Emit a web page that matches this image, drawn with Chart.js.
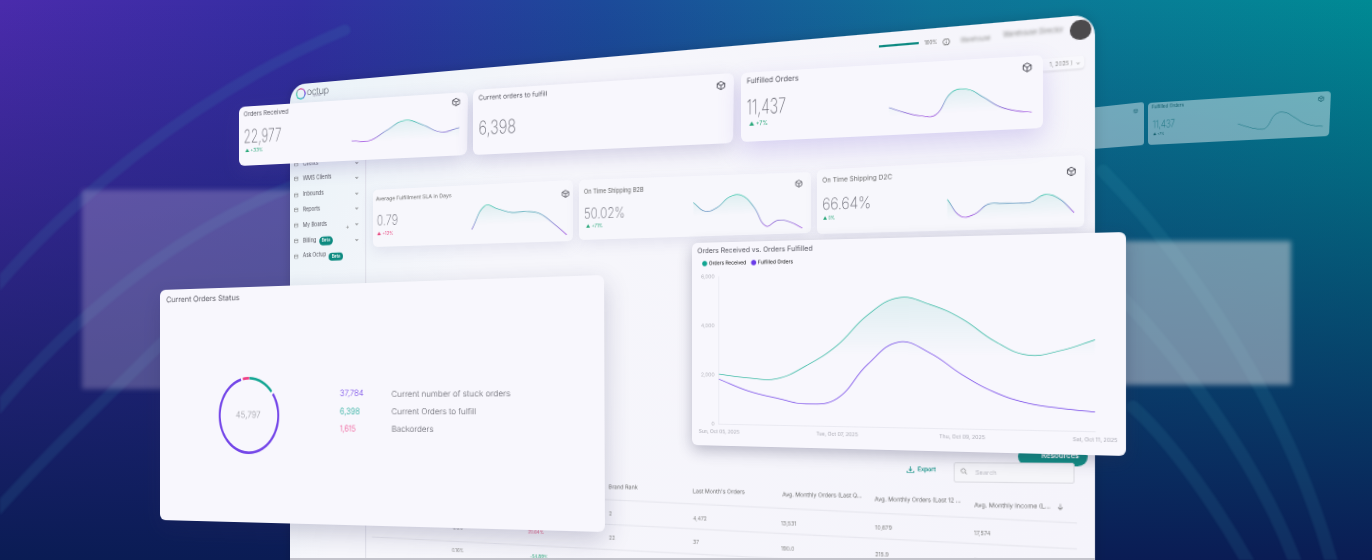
<!DOCTYPE html>
<html><head><meta charset="utf-8">
<style>
html,body{margin:0;padding:0;width:1372px;height:560px;overflow:hidden;background:#111}
#stage{position:absolute;left:0;top:0;width:1372px;height:560px;overflow:hidden;font-family:"Inter","Lato",sans-serif;color:#55555f;filter:blur(.25px);
background:linear-gradient(180deg,rgba(10,28,84,0) 0%,rgba(10,28,84,1) 100%),linear-gradient(90deg,#4a2bac 0%,#342ea2 22%,#1c4a9a 44%,#0f7298 68%,#008a94 100%);}
.q{position:absolute;left:0;top:0;transform-origin:0 0;box-sizing:border-box}
.c{background:#f8f7fd;border-radius:6px;box-shadow:0 6px 18px rgba(80,70,150,.22)}
.t{position:absolute;white-space:nowrap;transform-origin:0 50%;transform:translateY(-50%);line-height:1}
canvas{position:absolute;left:0;top:0}
</style>
<script src="https://cdn.jsdelivr.net/npm/chart.js@4"></script>
</head><body><div id="stage"></div>
<script>
const dayLabels=["Sun, Oct 05, 2025","","","","Tue, Oct 07, 2025","","","","Thu, Oct 09, 2025","","","","Sat, Oct 11, 2025"];
const receivedValues=[2036,1894,1875,2413,3203,4396,5063,4788,4227,3372,2845,3017,3417];
const fulfilledValues=[1833,1369,1088,878,1104,2458,3337,2911,2087,1428,1030,849,732];
const yTickValues=[0,2000,4000,6000];
const sparkReceived=[32.5,31,46.6,61,52,39,44.4];
const sparkFulfilled=[38.6,30.9,25.1,25.4,55.3,58.7,46.5,32.5,25.5,22.6];
const sparkSla=[24.4,64,57.5,50.9,51.4,47.8,31,10.5];
const sparkB2b=[56,41.1,47,63.4,65.5,46.2,13.8,22.5,19.1,8.6];
const sparkD2c=[45.9,20.6,22.8,36.7,37.3,37,37.2,47.3,40.4,20.5];
const statusLabels=["Current Orders to fulfill","Current number of stuck orders","Backorders"];
const statusValues=[6398,37784,1615];
const statusColors=["#12a592","#7446e8","#ee3f86"];

const TEAL="#2fb8a0",PURPLE="#7446e8",FONT='"Inter","Lato",sans-serif',DPR=2;
const stage=document.getElementById('stage');
Chart.defaults.font.family=FONT;
Chart.defaults.animation=false;

function homography(w,h,q){
  const [x0,y0]=q[0],[x1,y1]=q[1],[x2,y2]=q[2],[x3,y3]=q[3];
  const sx=x0-x1+x2-x3,sy=y0-y1+y2-y3,dx1=x1-x2,dx2=x3-x2,dy1=y1-y2,dy2=y3-y2,den=dx1*dy2-dx2*dy1;
  const g=(sx*dy2-dx2*sy)/den,hh=(dx1*sy-sx*dy1)/den;
  const a=x1-x0+g*x1,b=x3-x0+hh*x3,c=x0,d=y1-y0+g*y1,e=y3-y0+hh*y3,f=y0;
  return {css:`matrix3d(${a/w},${d/w},0,${g/w},${b/h},${e/h},0,${hh/h},0,0,1,0,${c},${f},0,1)`,
    inv(X,Y){
      const A=a-g*X,B=b-hh*X,C=X-c,D=d-g*Y,E=e-hh*Y,F=Y-f,det=A*E-B*D;
      return [(C*E-B*F)/det*w,(A*F-C*D)/det*h];
    }};
}
function layer(q,w,h,cls,style,parent){
  const el=document.createElement('div');
  const H=homography(w,h,q);
  el.className='q '+(cls||'');
  el.style.cssText=`width:${w}px;height:${h}px;transform:${H.css};${style||''}`;
  (parent||stage).appendChild(el);
  el.inv=H.inv;el.W=w;el.H=h;
  return el;
}
/* place text at picture position; xEnd squeezes it to end at that picture x */
function put(p,x,y,text,css,xEnd){
  const [lx,ly]=p.inv(x,y);
  const s=document.createElement('div');
  s.className='t';s.innerHTML=text;
  s.style.cssText=`left:${lx}px;top:${ly}px;${css||''}`;
  p.appendChild(s);
  if(xEnd){const tw=p.inv(xEnd,y)[0]-lx;s.style.transform=`translateY(-50%) scaleX(${tw/s.offsetWidth})`;}
  return s;
}
function cube(size,color){
  return `<svg width="${size}" height="${size}" viewBox="0 0 24 24" fill="none" stroke="${color||'#3c3c46'}" stroke-width="2" style="display:block;transform:translateX(-50%)"><path d="M12 2l9 5v10l-9 5-9-5V7z"/><path d="M3 7l9 5 9-5M12 12v10"/></svg>`;
}
function spark(card,values,xL,xR,yRef,mono){
  const cv=document.createElement('canvas');cv.width=card.W;cv.height=card.H;card.appendChild(cv);
  const l=card.inv(xL,yRef)[0],r=card.inv(xR,yRef)[0];
  return new Chart(cv,{type:'line',data:{labels:values.map((_,i)=>i),datasets:[{data:values,tension:.42,pointRadius:0,borderWidth:mono?.5:.7,fill:mono?false:'origin',
    borderColor(c){if(mono)return mono;const a=c.chart.chartArea;if(!a)return TEAL;const s=c.chart.scales.y;
      const g=c.chart.ctx.createLinearGradient(0,s.getPixelForValue(Math.max(...values)),0,s.getPixelForValue(Math.min(...values)));
      g.addColorStop(0,'#35c4a8');g.addColorStop(1,'#9a45de');return g;},
    backgroundColor(c){const a=c.chart.chartArea;if(!a)return 'transparent';const s=c.chart.scales.y;const t=s.getPixelForValue(Math.max(...values));
      const g=c.chart.ctx.createLinearGradient(0,t,0,t+card.H*.32);
      g.addColorStop(0,'rgba(47,184,160,.11)');g.addColorStop(1,'rgba(47,184,160,0)');return g;}}]},
    options:{responsive:false,devicePixelRatio:DPR,layout:{padding:{left:l,right:card.W-r,top:0,bottom:0}},
      plugins:{legend:{display:false},tooltip:{enabled:false}},
      scales:{x:{display:false},y:{display:false,min:0,max:100}}}});
}

/* backdrop */
const deco=document.createElement('div');
deco.innerHTML=`<svg width="1372" height="560" style="position:absolute;left:0;top:0;filter:blur(1px)" fill="none" stroke-linecap="round">
<g stroke="#3f96b8" stroke-opacity=".15" stroke-width="11">
<path d="M-10 294C60 210 190 95 345 30"/><path d="M-10 418C60 330 170 232 300 183"/>
<path d="M-10 518C50 450 110 395 170 335"/></g>
<g stroke="#4ab4c8" stroke-opacity=".11" stroke-width="13">
<path d="M1103 171C1180 250 1290 400 1335 575"/><path d="M1110 285C1170 345 1260 460 1300 575"/><path d="M1133 407C1170 440 1220 510 1255 575"/></g></svg>`;
stage.appendChild(deco);
const ghostL=document.createElement('div');
ghostL.style.cssText='position:absolute;left:82px;top:190px;width:230px;height:199px;background:rgba(205,190,225,.3);filter:blur(2.5px)';
stage.appendChild(ghostL);
const ghostR=document.createElement('div');
ghostR.style.cssText='position:absolute;left:1110px;top:241px;width:181px;height:144px;background:rgba(215,215,222,.5);filter:blur(2.5px)';
stage.appendChild(ghostR);

/* small ghost cards to the right */
const gh1=layer([[1080,109],[1144,102],[1144,145],[1080,150]],64,42,'','background:rgba(255,255,255,.42);border-radius:3px');
const gh2=layer([[1148,103],[1331,91],[1329,136],[1148,145]],183,44,'','background:rgba(255,255,255,.42);border-radius:4px');
put(gh2,1152,108,'Fulfilled Orders','font-size:4.5px;color:#0d5a68',1184);
put(gh2,1152.5,125,'11,437','font-size:11px;font-weight:200;color:#0d6a78',1175);
put(gh2,1153,135,'▲ +7%','font-size:3.5px;color:#0d5a68');
put(gh2,1321,99,cube(6,'#0d5a68'),'');
spark(gh2,sparkFulfilled,1238,1323,120,'#11707e');
put(gh1,1136,111,cube(5,'#0d5a68'),'');

/* dashboard panel */
const panel=layer([[290,85],[1095,14],[1095,622],[290,590]],805,520,'','background:linear-gradient(120deg,#eaf3f8 0%,#f6f6fb 30%,#f5f4fb 100%);border-radius:18px 18px 0 0;box-shadow:0 0 12px rgba(0,0,0,.15)');
/* sidebar */
const dv=document.createElement('div');
const dvx=panel.inv(365,300)[0];
dv.style.cssText=`position:absolute;left:${dvx}px;top:68px;width:1px;height:452px;background:#dcdce6`;panel.appendChild(dv);
const ring=document.createElement('div');
const rp=panel.inv(301,93.5);
ring.style.cssText=`position:absolute;left:${rp[0]-6}px;top:${rp[1]-6}px;width:12px;height:12px;border-radius:50%;background:conic-gradient(#e65ca0,#7a5be6,#35c4c0,#48d0a8,#e65ca0);-webkit-mask:radial-gradient(circle,transparent 4.2px,#000 4.7px);mask:radial-gradient(circle,transparent 4.2px,#000 4.7px)`;
panel.appendChild(ring);
put(panel,307,91,'octup','font-size:10px;font-weight:300;color:#5a5f6a;letter-spacing:-.3px',329);
put(panel,313,97,'Optimize','font-size:2.4px;color:#99a');
const menu=[["Clients",164.3],["WMS Clients",179.3],["Inbounds",195],["Reports",210.3],["My Boards",225.7],["Billing",241.3],["Ask Octup",256.7]];
menu.forEach(([m,y],i)=>{
  put(panel,303,y,m,'font-size:5.6px;color:#55555f');
  put(panel,293.8,y,'<svg width="5" height="5" viewBox="0 0 10 10" fill="none" stroke="#666" stroke-width="1" style="display:block"><rect x="1" y="1" width="8" height="8" rx="1.5"/><path d="M1 4h8"/></svg>','');
  if(i<6) put(panel,355,y-1.5,'<svg width="4" height="3" viewBox="0 0 8 6" fill="none" stroke="#666" stroke-width="1.3" style="display:block"><path d="M1 1l3 3 3-3"/></svg>','');
});
put(panel,345.5,226,'+','font-size:7px;color:#888');
const pill='font-size:4.6px;background:#0d8a80;color:#fff;padding:2px 3.2px;border-radius:5px;font-weight:500';
put(panel,319,241.3,'Beta',pill);put(panel,329,256.7,'Beta',pill);
/* header */
const bar=document.createElement('div');const bp=panel.inv(879,46),bq=panel.inv(919,46);
bar.style.cssText=`position:absolute;left:${bp[0]}px;top:${bp[1]-.8}px;width:${bq[0]-bp[0]}px;height:1.8px;background:#0f8a82`;panel.appendChild(bar);
put(panel,924,43,'100%','font-size:4.8px;color:#666',937);
put(panel,942,42,'<svg width="7" height="7" viewBox="0 0 14 14" fill="none" stroke="#555" stroke-width="1.1" style="display:block"><circle cx="7" cy="7" r="5.5"/><path d="M7 6v4M7 4v1"/></svg>','');
put(panel,960,39.5,'Warehouse','font-size:6px;color:#888;filter:blur(1.3px)',990);
put(panel,1003,35,'Warehouse Director','font-size:6px;color:#888;filter:blur(1.3px)',1063);
const av=document.createElement('div');const ap=panel.inv(1080.7,30),aq=panel.inv(1091,30);
const ar=aq[0]-ap[0];
av.style.cssText=`position:absolute;left:${ap[0]-ar}px;top:${ap[1]-ar*1.02}px;width:${ar*2}px;height:${ar*2.04}px;border-radius:50%;background:#4c4a4c;filter:blur(.6px)`;panel.appendChild(av);
put(panel,1040,65.5,'1, 2025 )&nbsp;&nbsp;<b>⌄</b>','font-size:4.8px;color:#999;background:#f8f8fc;padding:3px 3px 3px 8px;border-radius:3px;box-shadow:0 1px 2px rgba(0,0,0,.1)');
/* toolbar and table */
const pillB=document.createElement('div');const pa=panel.inv(1018,446),pb=panel.inv(1088,467);
pillB.style.cssText=`position:absolute;left:${pa[0]}px;top:${pa[1]}px;width:${pb[0]-pa[0]}px;height:${pb[1]-pa[1]}px;background:#0f8f84;border-radius:11px`;panel.appendChild(pillB);
put(panel,1042,455,'Resources','font-size:7px;font-weight:600;color:#fff',1080);
put(panel,906,469.5,'<svg width="7" height="7" viewBox="0 0 14 14" fill="none" stroke="#0f8f84" stroke-width="1.3" style="display:block"><path d="M7 1v8M4 6l3 3 3-3M1 9v3h12V9"/></svg>','');
put(panel,918,470,'Export','font-size:5.4px;font-weight:600;color:#0f8f84',936);
const sb=document.createElement('div');const sa=panel.inv(954,472),sc=panel.inv(1075,472);
sb.style.cssText=`position:absolute;left:${sa[0]}px;top:${sa[1]-9}px;width:${sc[0]-sa[0]}px;height:18px;background:#f5f5f9;border:.7px solid #dedee4;border-radius:2px;box-sizing:border-box`;panel.appendChild(sb);
put(panel,960,471,'<svg width="6" height="6" viewBox="0 0 12 12" fill="none" stroke="#888" stroke-width="1.1" style="display:block"><circle cx="5" cy="5" r="3.6"/><path d="M8 8l3 3"/></svg>','');
put(panel,975,472,'Search','font-size:5px;color:#c0c0c8',997);
const heads=[["Brand Rank",609,487,638],["Last Month's Orders",693,491,745],["Avg. Monthly Orders (Last Q...",782,495,862],["Avg. Monthly Orders (Last 12 ...",875,499.5,962],["Avg. Monthly Income (L...",974,505,1050]];
heads.forEach(h=>put(panel,h[1],h[2],h[0],'font-size:5.2px;color:#666',h[3]));
put(panel,1057,507,'<svg width="6" height="6" viewBox="0 0 12 12" fill="none" stroke="#666" stroke-width="1" style="display:block"><path d="M6 1v10M2 7l4 4 4-4"/></svg>','');
[["2",609,513],["4,472",693,518],["13,531",781,523],["10,679",875,527.5],["17,574",974,533],["22",609,537.5],["37",693,542],["190.0",781,548],["215.9",875,554],["962.7",974,560]].forEach(r=>put(panel,r[1],r[2],r[0],'font-size:5px;color:#888'));
[["0.0.0",453,529,'#888'],["20.64%",528,532.5,'#e0507a'],["0.16%",452,551,'#888'],["-54.89%",530,557,'#2aa87a']].forEach(r=>put(panel,r[1],r[2],r[0],'font-size:4.6px;color:'+r[3]));
const NS='http://www.w3.org/2000/svg';
const rules=document.createElementNS(NS,'svg');
rules.setAttribute('width',805);rules.setAttribute('height',520);rules.style.cssText='position:absolute;left:0;top:0';
[[372,488,1077,523],[372,512,1077,549],[372,537,1090,575]].forEach(r=>{
  const a=panel.inv(r[0],r[1]),b=panel.inv(r[2],r[3]),l=document.createElementNS(NS,'line');
  l.setAttribute('x1',a[0]);l.setAttribute('y1',a[1]);l.setAttribute('x2',b[0]);l.setAttribute('y2',b[1]);
  l.setAttribute('stroke','#e2e2ea');l.setAttribute('stroke-width','.8');rules.appendChild(l);
});
panel.appendChild(rules);
const strip=document.createElement('div');
strip.style.cssText='position:absolute;left:290px;top:558px;width:805px;height:2px;background:#c4c4cc';stage.appendChild(strip);

/* second row cards */
const cS='background:#f7f7fc;border-radius:5px;box-shadow:0 5px 14px rgba(110,110,160,.13)';
const NUM='font-weight:200;color:#6e6e78;';
const sla=layer([[373,190],[573,180],[573,241],[373,247]],200,59,'',cS);
put(sla,376,200,'Average Fulfillment SLA in Days','font-size:5.4px;color:#666',452);
put(sla,376.5,221,'0.79','font-size:14.5px;'+NUM,398);
put(sla,377,234,'▲ +12%','font-size:4.4px;color:#e8457e');
put(sla,565,194,cube(8),'');
spark(sla,sparkSla,471.7,566.7,215);
const b2b=layer([[579,180],[811,172],[811,233],[579,240]],232,60,'',cS);
put(b2b,584,191.5,'On Time Shipping B2B','font-size:6px;color:#666',644);
put(b2b,584,213,'50.02%','font-size:15px;'+NUM,625);
put(b2b,586,227,'▲ +71%','font-size:4.4px;color:#2aa87a');
put(b2b,799,184,cube(8),'');
spark(b2b,sparkB2b,693.3,802.3,205);
const d2c=layer([[817,170],[1085,155],[1084,227],[817,234]],268,64,'',cS);
put(d2c,822,181,'On Time Shipping D2C','font-size:6.6px;color:#666',892);
put(d2c,822,204,'66.64%','font-size:16px;'+NUM,871);
put(d2c,823,219,'▲ 0%','font-size:4.6px;color:#2aa87a');
put(d2c,1071,172,cube(9),'');
spark(d2c,sparkD2c,947.3,1074.3,200);

/* status card */
const st=layer([[160,290],[604,275],[605,532],[160,520]],445,238,'c','box-shadow:0 8px 22px rgba(40,40,90,.22)');
put(st,166.5,300,'Current Orders Status','font-size:7.8px;color:#55555f',240);
const wrap=document.createElement('div');
const dc=st.inv(248.7,415);
wrap.style.cssText=`position:absolute;left:${dc[0]-50}px;top:${dc[1]-50}px;width:100px;height:100px;transform:scale(.83,1)`;
st.appendChild(wrap);
const dcv=document.createElement('canvas');dcv.width=100;dcv.height=100;wrap.appendChild(dcv);
new Chart(dcv,{type:'doughnut',data:{labels:statusLabels,datasets:[{data:statusValues,backgroundColor:statusColors,borderWidth:0,spacing:1.8}]},
 options:{responsive:false,devicePixelRatio:DPR,cutout:'93%',rotation:1,layout:{padding:11},plugins:{legend:{display:false},tooltip:{enabled:false}}}});
put(st,236,414.5,'45,797','font-size:9.2px;font-weight:300;color:#9a9aa2',261);
[[393.5,'37,784','#7446e8','Current number of stuck orders',364,510],[411,'6,398','#12a592','Current Orders to fulfill',360,476],[429,'1,615','#ee3f86','Backorders',356,433]].forEach(r=>{
  put(st,340,r[0],r[1],`font-size:8.4px;color:${r[2]};font-weight:300`,r[4]);
  put(st,391,r[0],r[3],'font-size:8px;color:#5d5d66;font-weight:300',r[5]);
});

/* main chart card */
const mc=layer([[692,243],[1126,232],[1126,456],[692,445]],434,213,'c','box-shadow:0 5px 16px rgba(40,40,80,.3)');
const mcv=document.createElement('canvas');mcv.width=434;mcv.height=213;mc.appendChild(mcv);
const axisL=mc.inv(719,350)[0],axisR=mc.inv(1095,350)[0];
const mainChart=new Chart(mcv,{type:'line',data:{labels:dayLabels,datasets:[
 {label:'Orders Received',data:receivedValues,borderColor:'#37b9a3',borderWidth:.75,tension:.42,pointRadius:0,fill:'origin',
  backgroundColor(c){const a=c.chart.chartArea;if(!a)return 'transparent';const s=c.chart.scales.y;
    const g=c.chart.ctx.createLinearGradient(0,s.getPixelForValue(5100),0,s.getPixelForValue(2800));
    g.addColorStop(0,'rgba(47,184,160,.12)');g.addColorStop(1,'rgba(47,184,160,0)');return g;}},
 {label:'Fulfilled Orders',data:fulfilledValues,borderColor:'#7446e8',backgroundColor:'#7446e8',borderWidth:.75,tension:.42,pointRadius:0}]},
 options:{responsive:false,devicePixelRatio:DPR,layout:{padding:{left:6,right:434-axisR,top:4.4,bottom:0}},
  plugins:{tooltip:{enabled:false},
   title:{display:true,text:'Orders Received vs. Orders Fulfilled',align:'start',color:'#55555f',font:{size:7.3,weight:'400'},padding:{top:0,bottom:.2}},
   legend:{display:true,align:'start',labels:{usePointStyle:true,pointStyle:'circle',boxWidth:4,boxHeight:4,padding:6,color:'#55555f',font:{size:5.2},
     generateLabels(ch){return ch.data.datasets.map((d,i)=>({text:d.label,fillStyle:i?'#6a3be8':'#12a592',strokeStyle:i?'#6a3be8':'#12a592',lineWidth:0,pointStyle:'circle',datasetIndex:i}));}}}},
  scales:{
   x:{offset:false,afterFit(s){s.height=22.5;},grid:{display:false,drawTicks:false},border:{color:'#e6e6ee',width:.7},
      ticks:{autoSkip:false,maxRotation:0,minRotation:0,padding:5,color:'#a8a8b2',font:{size:5.2},callback(v,i){return dayLabels[i];}}},
   y:{min:0,max:6000,afterFit(s){s.width=axisL-6;},afterBuildTicks(s){s.ticks=yTickValues.map(v=>({value:v}));},
      grid:{display:false,drawTicks:false},border:{color:'#e6e6ee',width:.7},
      ticks:{padding:5,color:'#b4b4bc',font:{size:5.4},callback(v){return v.toLocaleString('en-US');}}}}}});
const extraTop=36-mainChart.chartArea.top, legendFit=mainChart.legend.fit;
mainChart.legend.fit=function(){legendFit.call(this);this.height+=extraTop;};
mainChart.update();

/* top floating cards */
const c1=layer([[239,107],[468,92],[467,155],[239,166]],229,61,'c');
put(c1,244,114,'Orders Received','font-size:6.2px;color:#55555f',289);
put(c1,244,137,'22,977','font-size:19px;'+NUM,282);
put(c1,245,151,'▲ +33%','font-size:4.6px;color:#2aa87a');
put(c1,456,102,cube(8.5),'');
spark(c1,sparkReceived,351.7,459.3,130);
const c2=layer([[473,90],[734,73],[733,143],[473,155]],261,66,'c');
put(c2,479,98.5,'Current orders to fulfill','font-size:6.8px;color:#55555f',548);
put(c2,478.5,128,'6,398','font-size:19px;'+NUM,516);
put(c2,721,86,cube(9),'');
const c3=layer([[741,73],[1043,55],[1043,128],[741,142]],302,70,'c','box-shadow:0 10px 24px rgba(110,80,210,.22)');
put(c3,747,82,'Fulfilled Orders','font-size:7.8px;color:#55555f',799);
put(c3,746.5,107,'11,437','font-size:21px;'+NUM,786);
put(c3,749,125,'▲ +7%','font-size:5.6px;color:#2aa87a');
put(c3,1027,67,cube(10),'');
spark(c3,sparkFulfilled,889,1031.7,100);
</script></body></html>
